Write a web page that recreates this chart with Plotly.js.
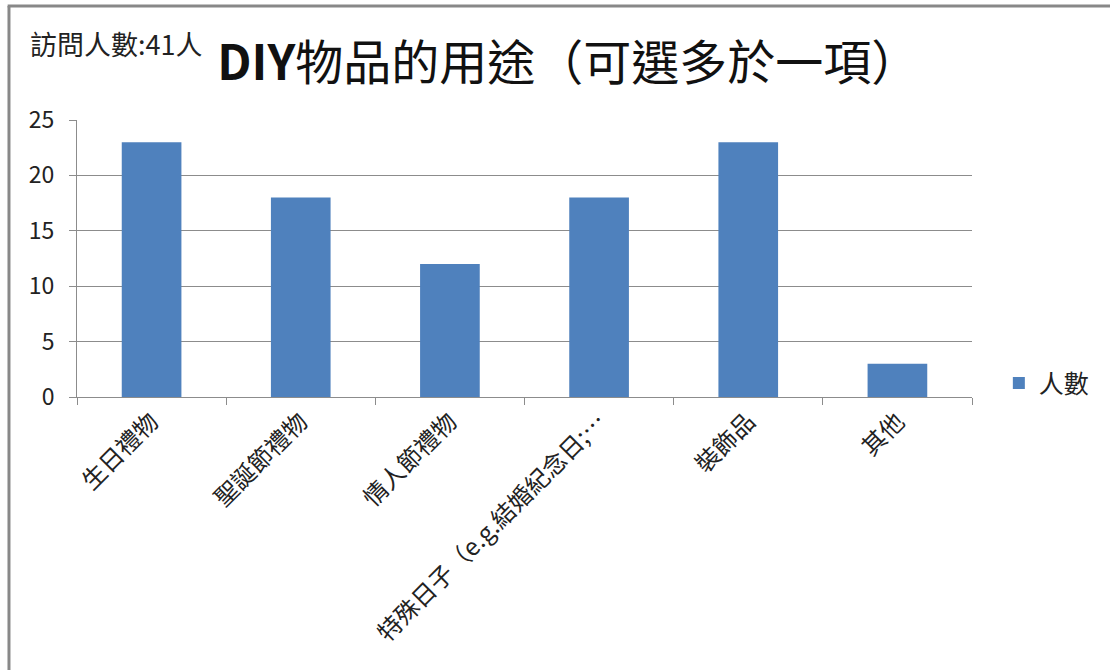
<!DOCTYPE html>
<html>
<head>
<meta charset="utf-8">
<script src="https://cdn.plot.ly/plotly-3.0.1.min.js"></script>
<style>html,body{margin:0;padding:0;background:#fff;}#chart{width:1110px;height:670px;}</style>
</head>
<body>
<div id="chart"></div>
<script>
const categories = ["生日禮物", "聖誕節禮物", "情人節禮物", "特殊日子（e.g.結婚紀念日;…", "裝飾品", "其他"];
const counts = [23, 18, 12, 18, 23, 3];
const seriesName = "人數";
const chartTitle = "<b>DIY</b>物品的用途（可選多於一項）";
const respondentNote = "訪問人數:41人";
const yTicks = [0, 5, 10, 15, 20, 25];

const FONT = '"Noto Sans CJK TC", "Noto Sans", sans-serif';
const GRID = '#8c8c8c';

const trace = {
  type: 'bar',
  x: categories,
  y: counts,
  name: seriesName,
  marker: {color: '#4F81BD'},
  showlegend: true
};

const layout = {
  width: 1110,
  height: 670,
  margin: {l: 77, r: 138, t: 120, b: 273},
  paper_bgcolor: '#fff',
  plot_bgcolor: '#fff',
  font: {family: FONT, color: '#222'},
  bargap: 0.6,
  title: {
    text: chartTitle,
    font: {family: FONT, size: 48, color: '#111'},
    xref: 'container', x: 0.512, xanchor: 'center',
    yref: 'container', y: 0.905, yanchor: 'middle'
  },
  xaxis: {
    type: 'category',
    tickson: 'boundaries',
    ticks: 'outside',
    ticklen: 7,
    tickcolor: GRID,
    showline: true,
    linecolor: GRID,
    linewidth: 1,
    showgrid: false,
    tickangle: -45,
    tickfont: {family: FONT, size: 24, color: '#222'},
    fixedrange: true
  },
  yaxis: {
    range: [0, 25],
    tickvals: yTicks,
    ticktext: yTicks.map(String),
    ticks: 'outside',
    ticklen: 7,
    tickcolor: GRID,
    showline: true,
    linecolor: GRID,
    linewidth: 1,
    showgrid: true,
    gridcolor: GRID,
    gridwidth: 1,
    zeroline: false,
    tickfont: {family: FONT, size: 23, color: '#222'},
    ticklabelstandoff: 10,
    fixedrange: true
  },
  legend: {
    x: 1.03, xanchor: 'left',
    y: 0.05, yanchor: 'middle',
    font: {family: FONT, size: 25, color: '#222'},
    bgcolor: 'rgba(0,0,0,0)',
    itemwidth: 30
  },
  annotations: [{
    text: respondentNote,
    xref: 'paper', yref: 'paper',
    x: -0.0547, xanchor: 'left',
    y: 1.275, yanchor: 'middle',
    showarrow: false,
    font: {family: FONT, size: 27, color: '#222'}
  }],
  shapes: [
    {type: 'line', xref: 'paper', yref: 'paper', x0: -0.076, x1: -0.076, y0: 1.4116, y1: -1.0, line: {color: '#888', width: 3}},
    {type: 'line', xref: 'paper', yref: 'paper', x0: -0.0775, x1: 1.16, y0: 1.4116, y1: 1.4116, line: {color: '#888', width: 3}}
  ]
};

Plotly.newPlot('chart', [trace], layout, {displayModeBar: false, staticPlot: true});
</script>
</body>
</html>
